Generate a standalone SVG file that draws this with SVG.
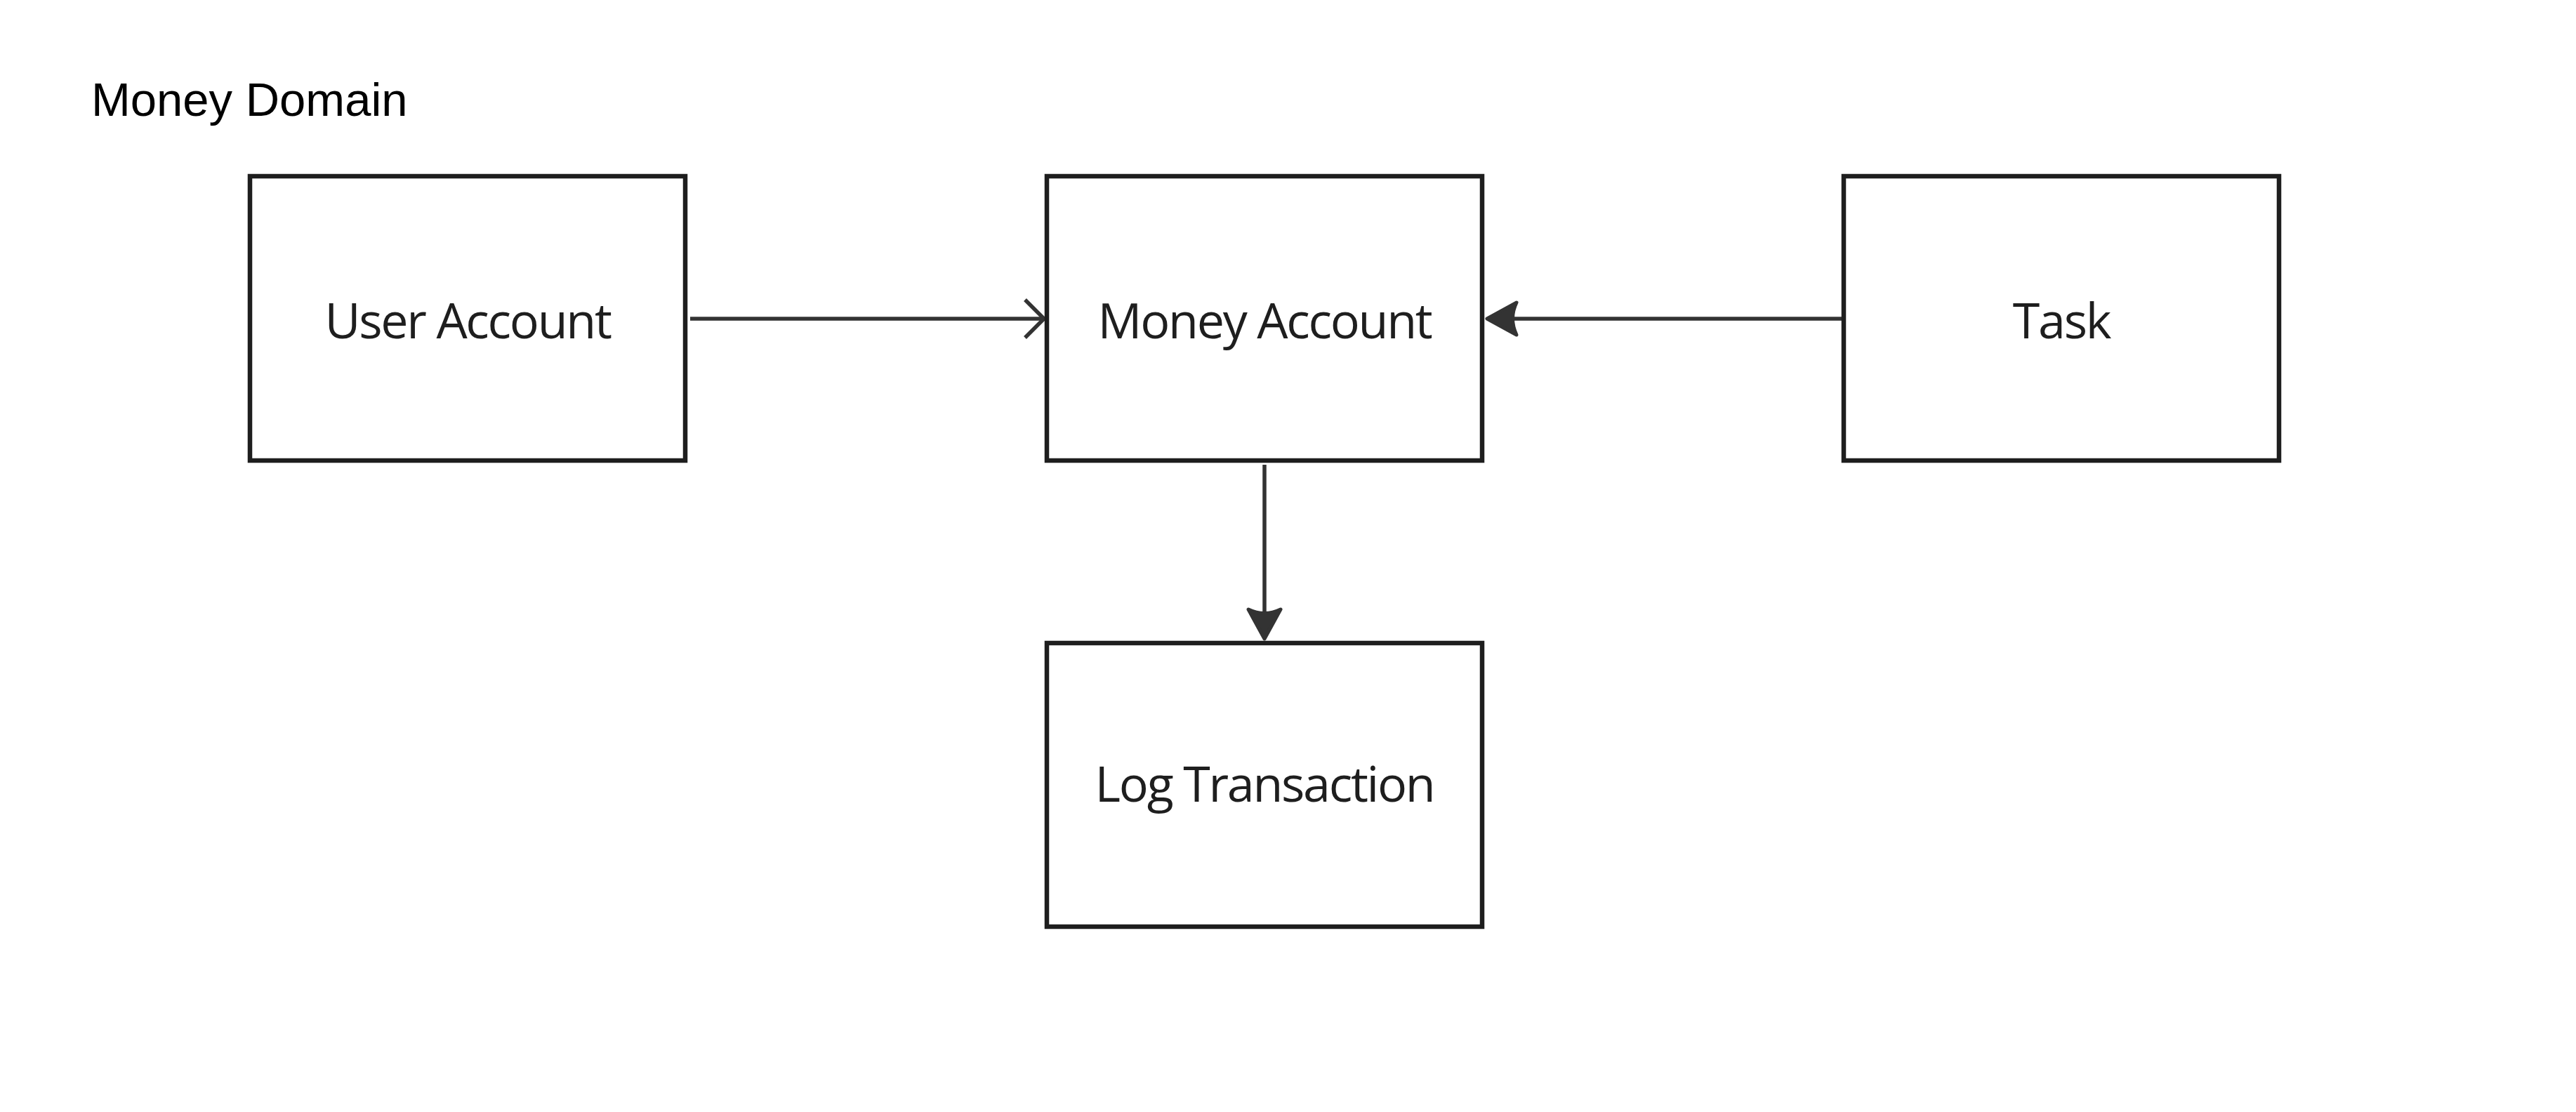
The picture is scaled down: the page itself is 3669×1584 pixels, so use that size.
<svg xmlns="http://www.w3.org/2000/svg" width="3669" height="1584" viewBox="0 0 3669 1584">
  <style>
    .box { fill: #ffffff; stroke: #1e1e1e; stroke-width: 6.5; }
    .label { font-family: "Open Sans", "Noto Sans", sans-serif; font-size: 70px; letter-spacing: -2.3px; fill: #1e1e1e; text-anchor: middle; }
    .title { font-family: "Liberation Sans", Arial, sans-serif; font-size: 67px; fill: #000000; }
    .conn { fill: none; stroke: #333333; stroke-width: 5.5; }
  </style>
  <defs>
    <marker id="open" markerUnits="userSpaceOnUse" viewBox="-34 -32 40 64" refX="0" refY="0" markerWidth="40" markerHeight="64" orient="auto" overflow="visible">
      <path d="M-27,-27 L0,0 L-27,27" fill="none" stroke="#333333" stroke-width="5.5" stroke-linecap="butt"/>
    </marker>
    <marker id="filled" markerUnits="userSpaceOnUse" viewBox="-50 -30 54 60" refX="0" refY="0" markerWidth="54" markerHeight="60" orient="auto" overflow="visible">
      <path d="M0,0 L-42,-23 Q-31,0 -42,23 Z" fill="#333333" stroke="#333333" stroke-width="5" stroke-linejoin="round"/>
    </marker>
  </defs>
  <rect width="3669" height="1584" fill="#ffffff"/>
  <text class="title" x="130" y="165">Money Domain</text>

  <g id="connectors">
    <line class="conn" x1="983" y1="454" x2="1487" y2="454" marker-end="url(#open)"/>
    <line class="conn" x1="2623" y1="454" x2="2118" y2="454" marker-end="url(#filled)"/>
    <line class="conn" x1="1801" y1="662" x2="1801" y2="910" marker-end="url(#filled)"/>
  </g>

  <g id="user-account">
    <rect class="box" x="356" y="251" width="620" height="405"/>
    <text class="label" x="666" y="482">User Account</text>
  </g>
  <g id="money-account">
    <rect class="box" x="1491" y="251" width="620" height="405"/>
    <text class="label" x="1801" y="482">Money Account</text>
  </g>
  <g id="task">
    <rect class="box" x="2626" y="251" width="620" height="405"/>
    <text class="label" x="2936" y="482">Task</text>
  </g>
  <g id="log-transaction">
    <rect class="box" x="1491" y="916" width="620" height="404"/>
    <text class="label" x="1801" y="1142">Log Transaction</text>
  </g>
</svg>
